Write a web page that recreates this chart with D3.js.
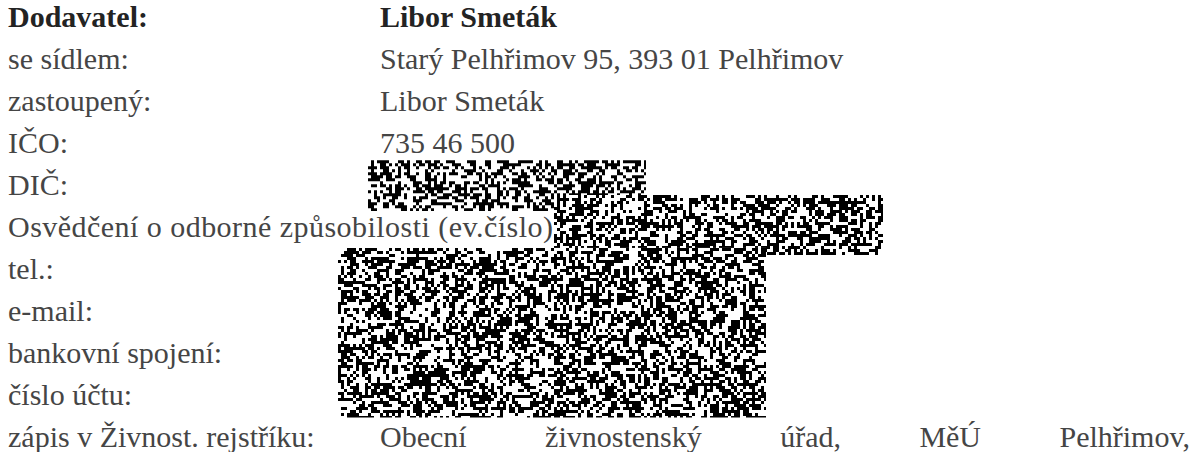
<!DOCTYPE html>
<html>
<head>
<meta charset="utf-8">
<script src="https://cdn.jsdelivr.net/npm/d3@7"></script>
<style>
  html, body { margin: 0; padding: 0; background: #fff; }
  svg { display: block; }
</style>
</head>
<body>
<script>
// rows of the form, label column and value column
const labels = [
  'Dodavatel:', 'se sídlem:', 'zastoupený:', 'IČO:', 'DIČ:',
  'Osvědčení o odborné způsobilosti (ev.číslo)', 'tel.:', 'e-mail:',
  'bankovní spojení:', 'číslo účtu:', 'zápis v Živnost. rejstříku:'
]
const values = [
  'Libor Smeták', 'Starý Pelhřimov 95, 393 01 Pelhřimov', 'Libor Smeták',
  '735 46 500', '', '', '', '', '', '', 'Obecní živnostenský úřad, MěÚ Pelhřimov,'
]
const boldRows = [0]
const justifiedRows = [10]

// blacked-out areas, in row units (top/bottom) and page x
const redactions = [
  { r0: 3.17, r1: 4.38, x0: 368, x1: 646 },
  { r0: 4.0, r1: 5.43, x0: 554, x1: 883 },
  { r0: 5.26, r1: 9.3, x0: 338, x1: 766 }
]

const w = 1192
const h = 452
const margin = { left: 8, right: 2 }
const valueX = 380
const fontSize = 30
// the long label is a bit wider in the scan
const stretched = { 5: 545 }

const svg = d3.select('body').append('svg')
  .attr('width', w)
  .attr('height', h)

const y = d3.scaleLinear().domain([0, labels.length - 1]).range([27, 447])

// deterministic hash for the scan-noise texture of the redactions
const hash = (i, j) => {
  let k = (Math.imul(i, 374761393) + Math.imul(j, 668265263)) | 0
  k = Math.imul(k ^ (k >>> 13), 1274126177)
  k ^= k >>> 16
  return (k >>> 0) / 4294967296
}

const cell = 3
redactions.forEach((r, n) => {
  const top = y(r.r0)
  const bottom = y(r.r1)
  const path = d3.path()
  for (let yy = top; yy < bottom; yy += cell) {
    for (let xx = r.x0; xx < r.x1; xx += cell) {
      const i = Math.round(xx / cell)
      const j = Math.round(yy / cell) + n * 1000
      const v = hash(i, j) * 0.65 + hash(i >> 1, (j >> 1) + 7919) * 0.35
      if (v < 0.5) {
        path.rect(xx, yy, Math.min(cell, r.x1 - xx), Math.min(cell, bottom - yy))
      }
    }
  }
  svg.append('rect')
    .attr('x', r.x0).attr('y', top)
    .attr('width', r.x1 - r.x0).attr('height', bottom - top)
    .attr('fill', '#fff')
  svg.append('path').attr('d', path.toString()).attr('fill', '#000')
})

const g = svg.append('g')
  .attr('font-family', '"Liberation Serif", "Times New Roman", serif')
  .attr('font-size', fontSize)

const colorOf = i => boldRows.includes(i) ? '#232323' : '#454545'
const weightOf = i => boldRows.includes(i) ? 'bold' : 'normal'

g.selectAll('.label')
  .data(labels)
  .enter().append('text')
    .attr('class', 'label')
    .attr('x', margin.left)
    .attr('y', (d, i) => y(i))
    .attr('fill', (d, i) => colorOf(i))
    .attr('font-weight', (d, i) => weightOf(i))
    .attr('textLength', (d, i) => stretched[i] || null)
    .text(d => d)

values.forEach((v, i) => {
  if (!v) return
  if (!justifiedRows.includes(i)) {
    g.append('text')
      .attr('x', valueX)
      .attr('y', y(i))
      .attr('fill', colorOf(i))
      .attr('font-weight', weightOf(i))
      .text(v)
    return
  }
  // justified line: spread the words to the right edge
  const words = v.split(' ')
  const nodes = words.map(wd => g.append('text')
    .attr('y', y(i))
    .attr('fill', colorOf(i))
    .attr('font-weight', weightOf(i))
    .text(wd))
  const widths = nodes.map(t => t.node().getComputedTextLength())
  const gap = (w - margin.right - valueX - d3.sum(widths)) / (words.length - 1)
  let x = valueX
  nodes.forEach((t, k) => {
    t.attr('x', x)
    x += widths[k] + gap
  })
})
</script>
</body>
</html>
